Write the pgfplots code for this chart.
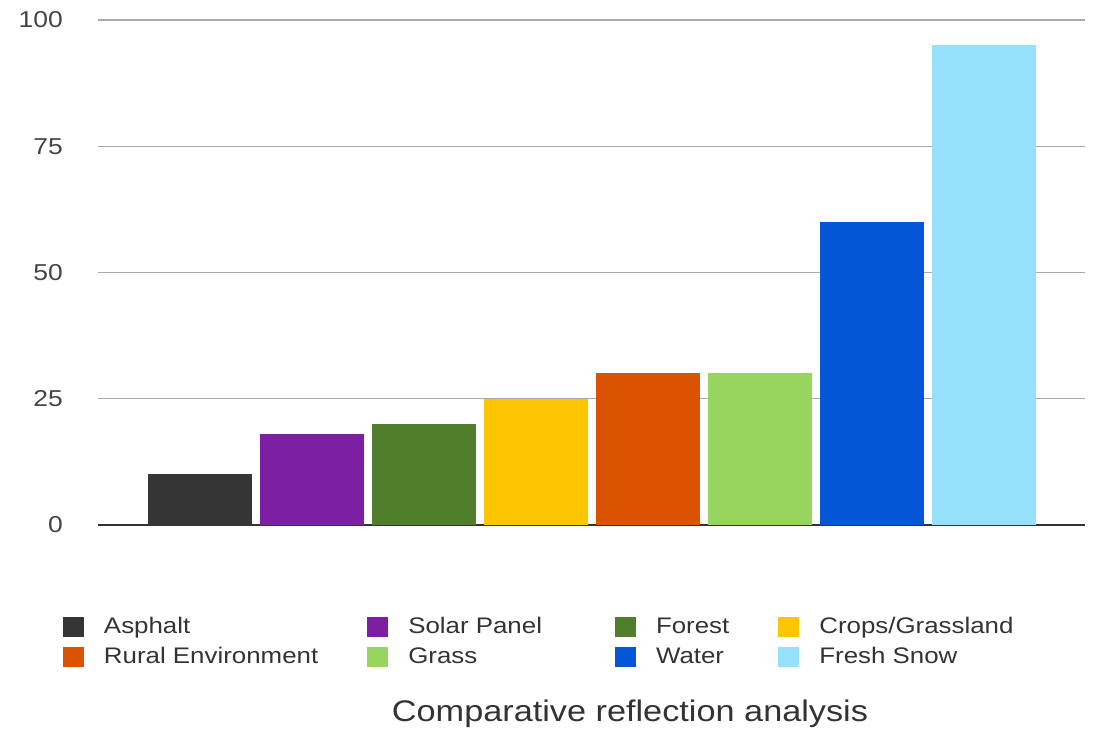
\documentclass[border=0pt]{standalone}
\usepackage{fontspec}
\setmainfont{Liberation Sans}[FakeStretch=1.15]
\usepackage{pgfplots}
\pgfplotsset{compat=1.18}
\definecolor{cAsph}{HTML}{353535}
\definecolor{cSolar}{HTML}{7C1FA3}
\definecolor{cForest}{HTML}{4F7F2A}
\definecolor{cCrops}{HTML}{FEC600}
\definecolor{cRural}{HTML}{DB5300}
\definecolor{cGrass}{HTML}{98D55E}
\definecolor{cWater}{HTML}{0356D6}
\definecolor{cSnow}{HTML}{95E0FB}
\definecolor{tickgray}{HTML}{444444}
\definecolor{legtext}{HTML}{333333}
\definecolor{gridgray}{HTML}{AAAAAA}
\begin{document}
\begin{tikzpicture}
\useasboundingbox (0,0) rectangle (1097bp,737bp);
\begin{axis}[
  at={(98bp,212bp)}, anchor=south west,
  scale only axis, width=987bp, height=505bp,
  xmin=-0.9107, xmax=7.902, ymin=0, ymax=100,
  ybar, bar width=0.92, bar shift=0pt,
  xtick=\empty,
  ytick={0,25,50,75,100},
  ymajorgrids, major grid style={color=gridgray, line width=1.3bp},
  major tick length=0pt,
  separate axis lines,
  axis x line*=bottom,
  axis y line*=left,
  y axis line style={draw=none},
  x axis line style={color=legtext, line width=1.8bp},
  /pgf/number format/assume math mode=true,
  yticklabel style={anchor=east, inner sep=0pt, xshift=-35bp, text=tickgray,
    font=\fontsize{23bp}{27bp}\selectfont},
  xlabel={Comparative reflection analysis},
  every axis x label/.style={at={(axis description cs:0.539,-0.390)}, anchor=base,
    inner sep=0pt, text=legtext, font=\fontsize{29.8bp}{35bp}\selectfont},
  legend columns=4,
  legend image code/.code={\fill[#1] (0bp,-4bp) rectangle (21bp,16bp);},
  legend style={at={(-0.03546,-0.1822)}, anchor=north west, draw=none, fill=none,
    inner sep=0pt, outer sep=0pt, text=legtext,
    font=\fontsize{22.5bp}{27bp}\selectfont,
    cells={anchor=base west},
    nodes={inner sep=0pt, text height=16bp, text depth=5bp},
    row sep=9bp,
    /tikz/every odd column/.style={column sep=20bp},
    /tikz/column 2/.style={column sep=49bp},
    /tikz/column 4/.style={column sep=73bp},
    /tikz/column 6/.style={column sep=49bp}},
]
\addplot[fill=cAsph, draw=none] coordinates {(0,10)};
\addlegendentry{Asphalt}
\addplot[fill=cSolar, draw=none] coordinates {(1,18)};
\addlegendentry{Solar Panel}
\addplot[fill=cForest, draw=none] coordinates {(2,20)};
\addlegendentry{Forest}
\addplot[fill=cCrops, draw=none] coordinates {(3,25)};
\addlegendentry{Crops/Grassland}
\addplot[fill=cRural, draw=none] coordinates {(4,30)};
\addlegendentry{Rural Environment}
\addplot[fill=cGrass, draw=none] coordinates {(5,30)};
\addlegendentry{Grass}
\addplot[fill=cWater, draw=none] coordinates {(6,60)};
\addlegendentry{Water}
\addplot[fill=cSnow, draw=none] coordinates {(7,95)};
\addlegendentry{Fresh Snow}
\end{axis}
\end{tikzpicture}
\end{document}
